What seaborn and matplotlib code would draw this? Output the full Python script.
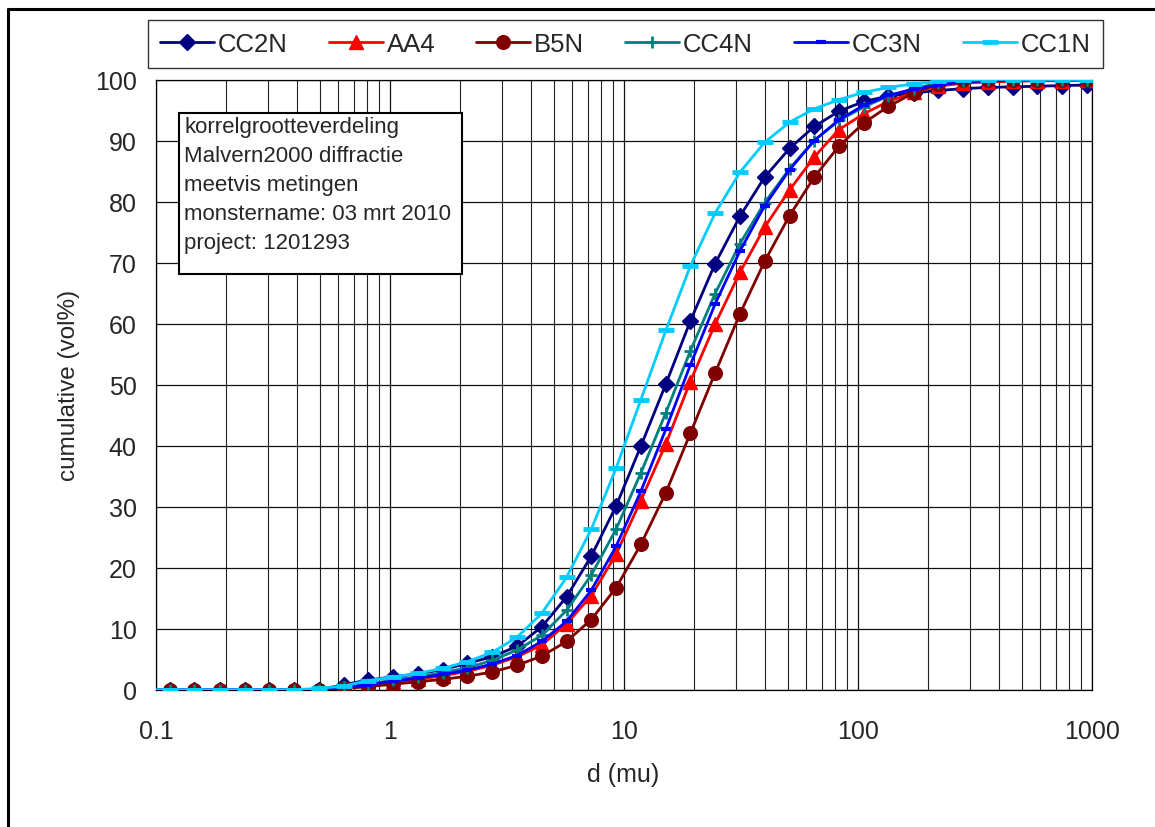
import matplotlib
matplotlib.use("Agg")
import matplotlib.pyplot as plt
import seaborn as sns
from matplotlib.ticker import FixedLocator, LogLocator, FuncFormatter, NullFormatter
from matplotlib.patches import Rectangle
from matplotlib.lines import Line2D

# particle size classes (micrometre)
d = [0.0899, 0.115, 0.146, 0.187, 0.239, 0.304, 0.389, 0.496, 0.633, 0.807,
     1.03, 1.32, 1.68, 2.14, 2.73, 3.49, 4.45, 5.68, 7.25, 9.25,
     11.8, 15.1, 19.2, 24.5, 31.3, 39.9, 51.0, 65.0, 83.0, 106,
     135, 173, 220, 281, 359, 458, 584, 745, 951]

# cumulative volume percentages per sample
cc2n = [0, 0, 0, 0, 0, 0, 0, 0, 0.8, 1.6, 2.1, 2.6, 3.3, 4.3, 5.4, 7.1, 10.3, 15.2, 21.9,
        30.1, 39.9, 50.1, 60.4, 69.8, 77.6, 84.0, 88.7, 92.3, 94.8, 96.4, 97.3, 97.8,
        98.2, 98.5, 98.7, 98.8, 98.9, 99.0, 99.1]
aa4 = [0, 0, 0, 0, 0, 0, 0, 0, 0.3, 0.6, 1.2, 1.7, 2.3, 3.0, 4.0, 5.4, 7.3, 10.8, 15.4,
       22.2, 31.0, 40.3, 50.5, 59.9, 68.4, 75.8, 81.9, 87.3, 91.8, 94.4, 96.4, 97.9,
       98.9, 99.4, 99.6, 99.7, 99.8, 99.8, 99.9]
b5n = [0, 0, 0, 0, 0, 0, 0, 0, 0.2, 0.5, 0.9, 1.3, 1.7, 2.2, 2.9, 4.0, 5.5, 7.9, 11.5,
       16.7, 23.8, 32.3, 42.0, 51.9, 61.6, 70.2, 77.7, 84.0, 89.1, 92.9, 95.6, 97.8,
       99.3, 99.9, 100, 100, 100, 100, 100]
cc4n = [0, 0, 0, 0, 0, 0, 0, 0, 0.5, 0.9, 1.6, 2.1, 2.8, 3.6, 4.8, 6.5, 8.9, 13.0, 18.8,
        26.3, 35.5, 45.4, 55.5, 64.9, 73.1, 79.8, 85.4, 90.0, 93.3, 95.5, 97.3, 98.5,
        99.4, 99.8, 99.9, 100, 100, 100, 100]
cc3n = [0, 0, 0, 0, 0, 0, 0, 0, 0.4, 0.8, 1.4, 1.9, 2.5, 3.2, 4.2, 5.6, 7.9, 11.2, 16.3,
        23.5, 32.5, 42.7, 53.2, 63.2, 71.9, 79.3, 85.2, 90.0, 93.4, 95.8, 97.4, 98.4,
        99.1, 99.6, 99.8, 99.9, 100, 100, 100]
cc1n = [0, 0, 0, 0, 0, 0, 0, 0.2, 0.6, 1.5, 2.1, 2.7, 3.5, 4.6, 6.1, 8.6, 12.5, 18.4, 26.3,
        36.3, 47.5, 58.9, 69.4, 78.1, 84.8, 89.7, 93.0, 95.2, 96.7, 97.9, 98.7, 99.3,
        99.7, 99.9, 100, 100, 100, 100, 100]

series_names = ["CC2N", "AA4", "B5N", "CC4N", "CC3N", "CC1N"]
series_values = [cc2n, aa4, b5n, cc4n, cc3n, cc1n]

x_ticks = [0.1, 1, 10, 100, 1000]
y_ticks = list(range(0, 101, 10))

info_lines = ["korrelgrootteverdeling",
              "Malvern2000 diffractie",
              "meetvis metingen",
              "monstername: 03 mrt 2010",
              "project: 1201293"]

styles = {
    "CC2N": dict(color="#000080", marker="D", markersize=8.2, markeredgewidth=1),
    "AA4": dict(color="#FF0000", marker="^", markersize=9.5, markeredgewidth=1),
    "B5N": dict(color="#800000", marker="o", markersize=9.8, markeredgewidth=1),
    "CC4N": dict(color="#008080", marker="+", markersize=9, markeredgewidth=2),
    "CC3N": dict(color="#0000FF", marker="_", markersize=6.5, markeredgewidth=3),
    "CC1N": dict(color="#00CCFF", marker="_", markersize=11, markeredgewidth=3.5),
}

sns.set_style("white")
plt.rcParams["font.family"] = ["Liberation Sans", "DejaVu Sans"]

W, H = 1155, 828
fig = plt.figure(figsize=(W / 100, H / 100), dpi=100)
ax = fig.add_axes([156 / W, 1 - 690.7 / H, 936 / W, 610.2 / H])

for i, (name, vals) in enumerate(zip(series_names, series_values)):
    st = styles[name]
    sns.lineplot(x=d, y=vals, ax=ax, color=st["color"], linewidth=2,
                 marker=st["marker"], markersize=st["markersize"],
                 markeredgewidth=st["markeredgewidth"], markeredgecolor=st["color"],
                 markerfacecolor=st["color"], label=name, estimator=None,
                 sort=False, zorder=3 + i)

ax.set_xscale("log")
ax.set_xlim(0.1, 1000)
ax.set_ylim(0, 100)
ax.xaxis.set_major_locator(FixedLocator(x_ticks))
ax.xaxis.set_minor_locator(LogLocator(base=10, subs=range(2, 10), numticks=20))
ax.xaxis.set_major_formatter(FuncFormatter(lambda v, p: f"{v:g}"))
ax.xaxis.set_minor_formatter(NullFormatter())
ax.yaxis.set_major_locator(FixedLocator(y_ticks))

ax.set_axisbelow(True)
ax.grid(which="major", axis="both", color="#111111", linewidth=0.9)
ax.grid(which="minor", axis="x", color="#222222", linewidth=0.8)
ax.tick_params(axis="both", which="major", direction="out", length=6, width=0.9,
               color="black", labelsize=18, pad=15)
ax.tick_params(axis="y", which="major", pad=8)
ax.tick_params(axis="x", which="minor", length=0)
for sp in ax.spines.values():
    sp.set_color("black")
    sp.set_linewidth(0.9)

ax.set_xlabel("d (mu)", fontsize=18)
ax.set_ylabel("cumulative (vol%)", fontsize=17.5)
ax.xaxis.set_label_coords(0.499, -0.119)
ax.yaxis.set_label_coords(-0.081, 0.501)

leg = ax.legend(loc="center", bbox_to_anchor=(625.5 / W, 1 - 45 / H),
                bbox_transform=fig.transFigure, ncol=6, fontsize=18.5,
                frameon=True, fancybox=False, edgecolor="#333333", framealpha=1,
                handlelength=2.1, handletextpad=0.15, columnspacing=1.6,
                borderpad=0.45, borderaxespad=0)
leg.get_frame().set_linewidth(1.0)

# information box
fig.add_artist(Rectangle((179 / W, 1 - 275 / H), (462 - 179) / W, (275 - 114) / H,
                         transform=fig.transFigure, facecolor="white",
                         edgecolor="black", linewidth=1.5, zorder=10))
for k, line in enumerate(info_lines):
    fig.text(184 / W, 1 - (128 + 29 * k) / H, line, fontsize=16, va="center",
             ha="left", zorder=11)

# outer frame
fig.add_artist(Line2D([8 / W, 8 / W], [0, 1 - 9.5 / H], transform=fig.transFigure,
                      color="black", linewidth=2.2))
fig.add_artist(Line2D([8 / W, 1], [1 - 9.5 / H, 1 - 9.5 / H], transform=fig.transFigure,
                      color="black", linewidth=2.2))

fig.savefig("out.png", dpi=100)
